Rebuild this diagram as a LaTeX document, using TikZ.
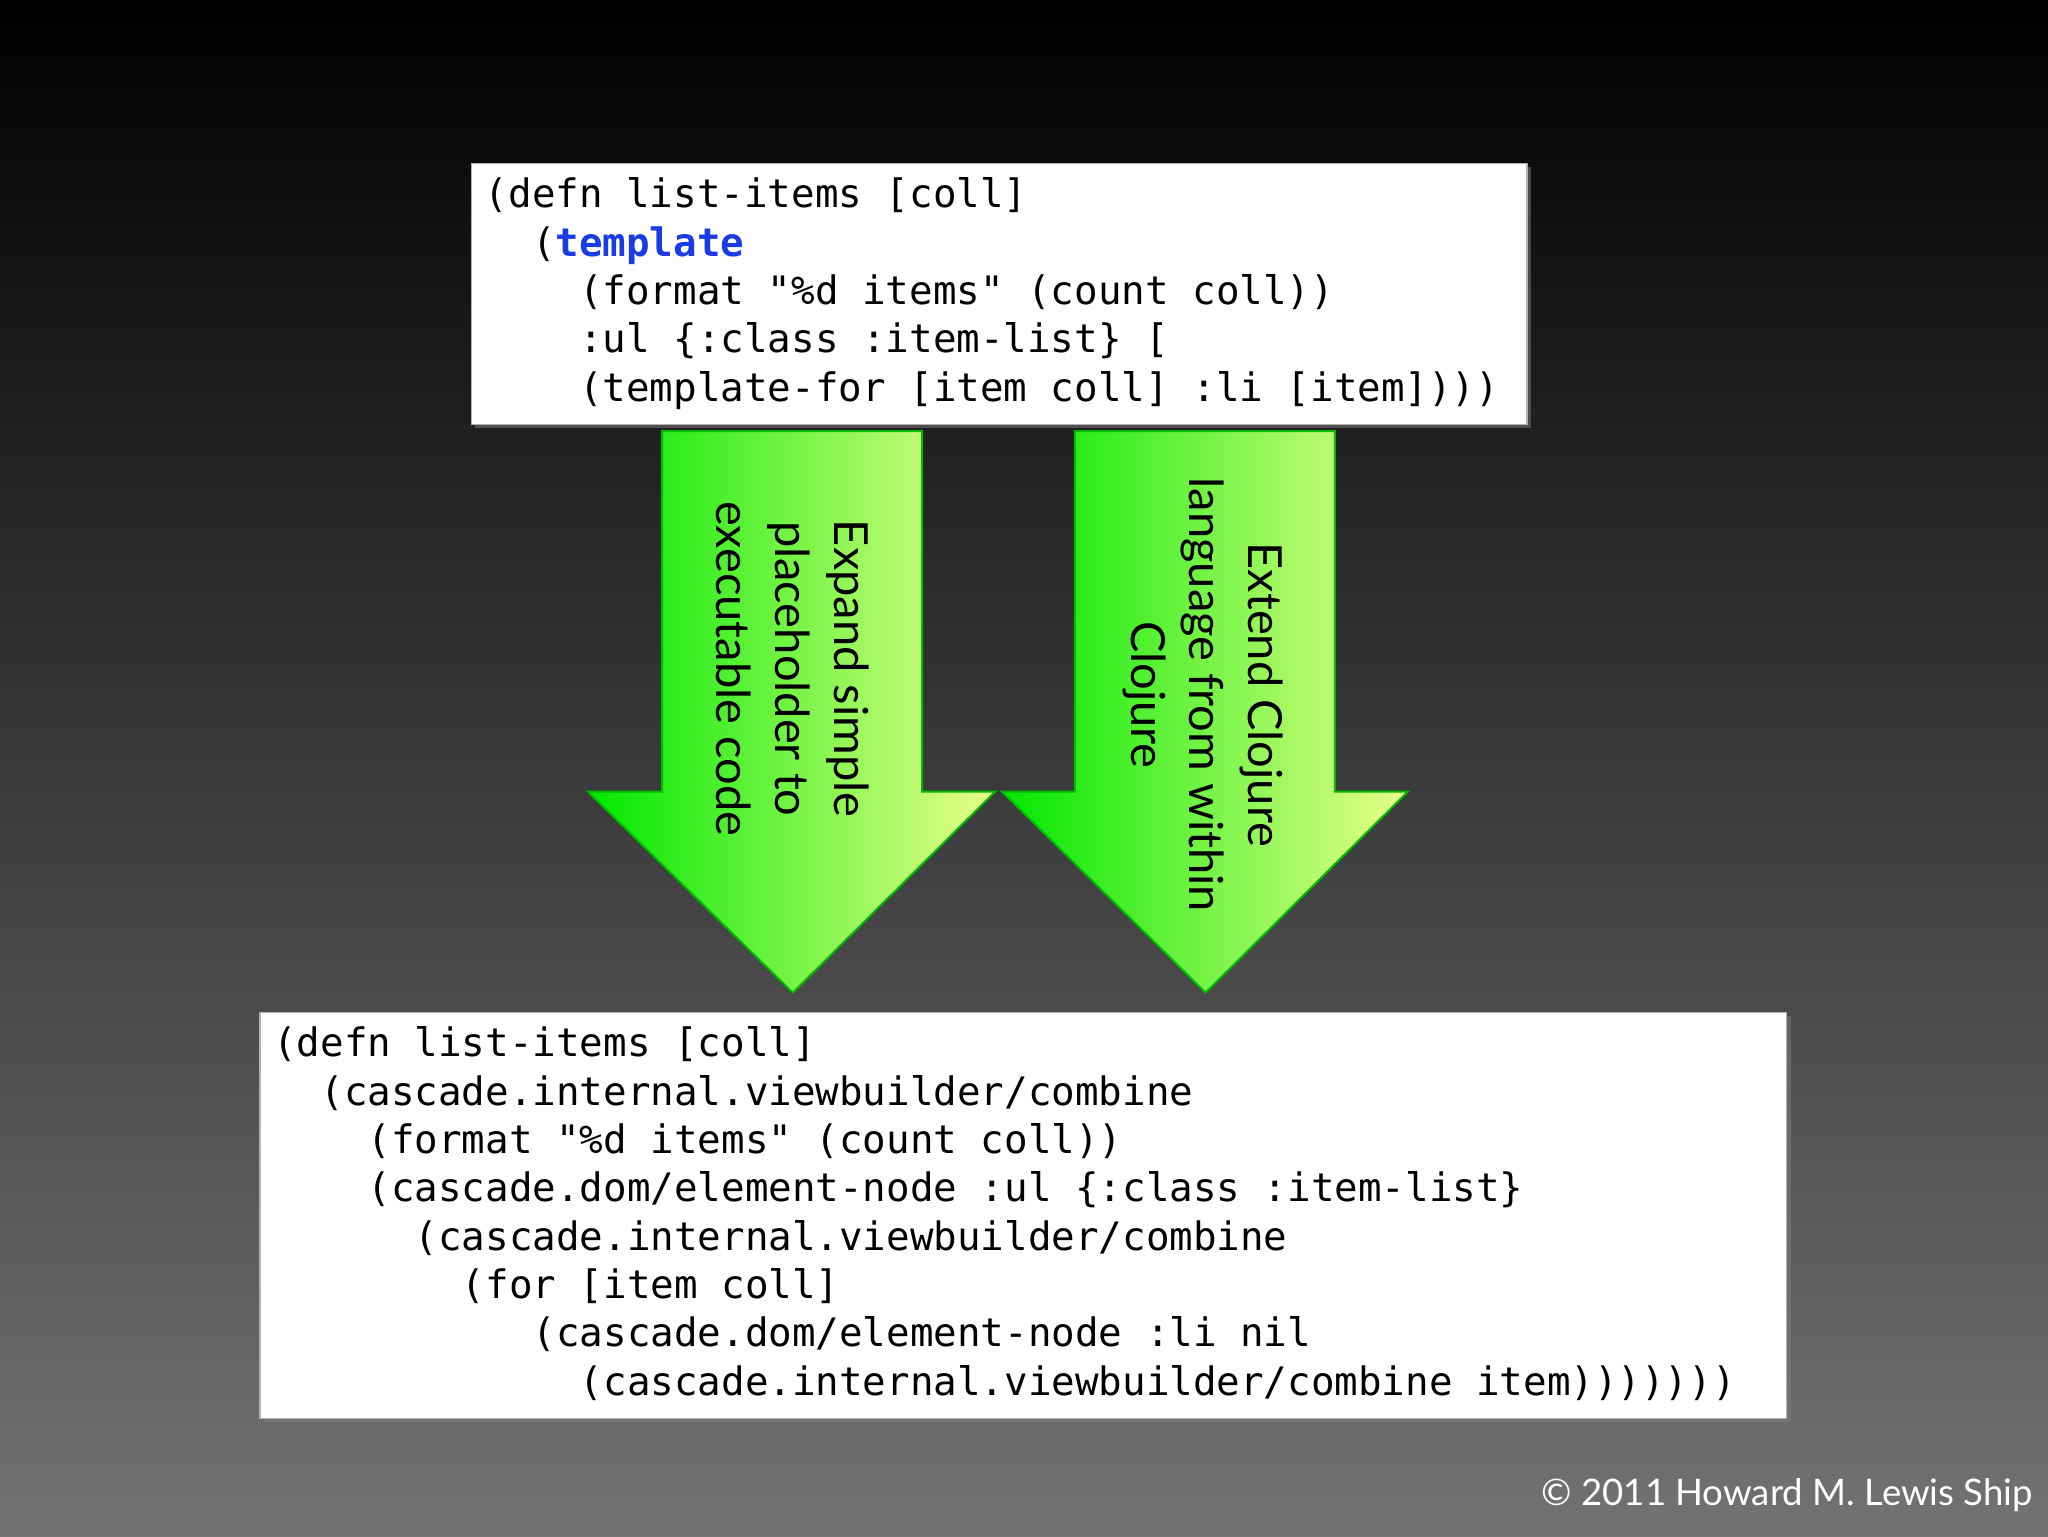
\documentclass[tikz,border=0pt]{standalone}
\usepackage{fontspec}
\setmainfont{Lato}
\newfontfamily\code{DejaVu Sans Mono}
\usetikzlibrary{shadows}
\definecolor{kw}{RGB}{26,60,230}
\definecolor{gA}{RGB}{0,232,0}
\definecolor{gB}{RGB}{235,255,140}
\tikzset{
  codebox/.style={draw=gray!60,fill=white,line width=1pt,drop shadow={shadow xshift=3pt,shadow yshift=-3pt,opacity=0.5}},
  codetext/.style={anchor=north west,inner sep=0pt,align=left,font=\code\fontsize{30}{37}\selectfont},
  bigarrow/.style={draw=gA!80!black,line width=1.5pt,left color=gA,right color=gB},
  arrowtext/.style={rotate=-90,align=center,font=\fontsize{36}{45}\selectfont,text=black}
}
\newcommand{\ind}[1]{\hphantom{#1}}
\begin{document}
\begin{tikzpicture}[x=1pt,y=-1pt]
\shade[top color=black,bottom color=black!55] (0,0) rectangle (1568,1176);
\useasboundingbox (0,0) rectangle (1568,1176);
% arrows
\path[bigarrow] (507,330) -- (706,330) -- (706,606) -- (762,606) -- (607,760) -- (450,606) -- (507,606) -- cycle;
\path[bigarrow] (823,330) -- (1022,330) -- (1022,606) -- (1078,606) -- (923,760) -- (767,606) -- (823,606) -- cycle;
\node[arrowtext] (t1) at (607,512) {Expand simple\\placeholder to\\executable code};
\node[arrowtext] (t2) at (921,532) {Extend Clojure\\language from within\\Clojure};
% top box
\path[codebox] (361,125) rectangle (1169,325);
\node[codetext] (c1) at (371,136) {(defn list-items [coll]\\
\ind{xx}({\color{kw}\bfseries template}\\
\ind{xxxx}(format "\%d items" (count coll))\\
\ind{xxxx}:ul \{:class :item-list\} [\\
\ind{xxxx}(template-for [item coll] :li [item])))};
% bottom box
\path[codebox] (199,775) rectangle (1368,1086);
\node[codetext] (c2) at (209,786) {(defn list-items [coll]\\
\ind{xx}(cascade.internal.viewbuilder/combine\\
\ind{xxxx}(format "\%d items" (count coll))\\
\ind{xxxx}(cascade.dom/element-node :ul \{:class :item-list\}\\
\ind{xxxxxx}(cascade.internal.viewbuilder/combine\\
\ind{xxxxxxxx}(for [item coll]\\
\ind{xxxxxxxxxxx}(cascade.dom/element-node :li nil\\
\ind{xxxxxxxxxxxxx}(cascade.internal.viewbuilder/combine item)))))))};
\node[anchor=east,text=white,font=\fontsize{28}{32}\selectfont] (cp) at (1560,1145) {© 2011 Howard M. Lewis Ship};
\end{tikzpicture}
\end{document}
